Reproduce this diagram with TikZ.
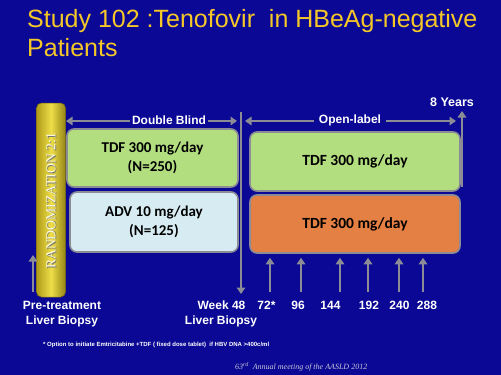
\documentclass[tikz,border=0pt]{standalone}
\usepackage{fontspec}
\setmainfont{Liberation Sans}
\newfontfamily\boxfont{Carlito}
\newfontfamily\seriffont{Liberation Serif}
\usetikzlibrary{arrows.meta,positioning,calc}
\definecolor{bg}{RGB}{10,8,148}
\definecolor{titleyellow}{RGB}{245,200,40}
\definecolor{arrowgray}{RGB}{140,140,150}
\definecolor{boxgreen}{RGB}{178,222,128}
\definecolor{boxblue}{RGB}{214,236,242}
\definecolor{boxorange}{RGB}{228,128,68}
\definecolor{bardark}{RGB}{175,155,25}
\definecolor{barlight}{RGB}{238,222,72}
\definecolor{bartext}{RGB}{252,250,225}
\definecolor{srcgray}{RGB}{200,200,215}
\tikzset{
  garrow/.style={draw=arrowgray, line width=2.6pt, -{Triangle[width=8.5pt,length=6.5pt]}},
  garrows/.style={draw=arrowgray, line width=2.6pt, {Triangle[width=8.5pt,length=6.5pt]}-{Triangle[width=8.5pt,length=6.5pt]}},
  armbox/.style={draw=arrowgray, line width=1.6pt, rounded corners=7pt, minimum width=#1, inner sep=0pt},
  boxtext/.style={font=\boxfont\bfseries\fontsize{15}{18.5}\selectfont, text=black, align=center},
  wlabel/.style={font=\bfseries\fontsize{12}{14}\selectfont, text=white},
  phase/.style={font=\bfseries\fontsize{12}{14}\selectfont, text=white, fill=bg, inner sep=2pt},
}
\begin{document}
\begin{tikzpicture}[x=1pt,y=-1pt]
\fill[bg] (0,0) rectangle (501,375);
\useasboundingbox (0,0) rectangle (501,375);
% title
\node[anchor=base west, text=titleyellow, font=\fontsize{25}{29}\selectfont, inner sep=0pt] (t1) at (27,27) {Study 102 :Tenofovir\ \ in HBeAg-negative};
\node[anchor=base west, text=titleyellow, font=\fontsize{25}{29}\selectfont, inner sep=0pt] (t2) at (27,56) {Patients};
% randomization bar
\node[rounded corners=5pt, minimum width=29pt, minimum height=194pt, inner sep=0pt,
  left color=bardark, right color=bardark!85!black, middle color=barlight, draw=bardark!70!black, line width=0.5pt] (rand) at (51,200) {};
\node[rotate=90, text=black!55, font=\seriffont\fontsize{13.7}{15}\selectfont] at (52,201.7) {RANDOMIZATION 2:1};
\node[rotate=90, text=bartext, font=\seriffont\fontsize{13.7}{15}\selectfont] (randt) at (51,201) {RANDOMIZATION 2:1};
% boxes
\node[armbox=171pt, minimum height=58pt, fill=boxgreen] (A) at (152.5,158) {};
\node[boxtext] at (A.center) {TDF 300 mg/day\\[1pt](N=250)};
\node[armbox=168pt, minimum height=60pt, fill=boxblue] (B) at (154,222) {};
\node[boxtext] at (B.center) {ADV 10 mg/day\\[1pt](N=125)};
\node[armbox=210pt, minimum height=59pt, fill=boxgreen] (C) at (355,161.5) {};
\node[boxtext, font=\boxfont\bfseries\fontsize{15.5}{18}\selectfont] at (C.center) {TDF 300 mg/day};
\node[armbox=210pt, minimum height=58pt, fill=boxorange] (D) at (355,224) {};
\node[boxtext, font=\boxfont\bfseries\fontsize{15.5}{18}\selectfont] at (D.center) {TDF 300 mg/day};
% phase arrows
\coordinate (dbL) at (66,121);
\coordinate (dbR) at (237,121);
\draw[garrows] (dbL) -- (dbR);
\node[phase] (db) at (169,120) {Double Blind};
\coordinate (olL) at (245,121);
\coordinate (olR) at (456,121);
\draw[garrows] (olL) -- (olR);
\node[phase, inner xsep=5pt] (ol) at (350,120) {Open-label};
% week 48 vertical line
\coordinate (vtop) at (241,112);
\coordinate (vbot) at (241,294);
\draw[garrow] (vtop) -- (vbot);
% 8 years
\coordinate (yb) at (462,187);
\coordinate (yt) at (462,111);
\draw[garrow] (yb) -- (yt);
\node[wlabel, font=\bfseries\fontsize{12.5}{14}\selectfont] (yrs) at (452,102) {8 Years};
% pre-treatment arrow
\coordinate (pb) at (33,292);
\coordinate (pt) at (33,255);
\draw[garrow] (pb) -- (pt);
% visit arrows
\foreach \n/\x in {a1/270,a2/301,a3/340,a4/368,a5/399,a6/423}{
  \coordinate (\n) at (\x,292);
  \draw[garrow] (\n) -- ($(\n |- D.south)+(0,4)$);
}
% labels
\node[wlabel, anchor=base] (pre1) at (62,309) {Pre-treatment};
\node[wlabel, anchor=base] (pre2) at (62,324) {Liver Biopsy};
\node[wlabel, anchor=base] (w48) at (221.5,309) {Week 48};
\node[wlabel, anchor=base] (lb) at (221,324) {Liver Biopsy};
\node[wlabel, anchor=base] (l72) at (266.5,309) {72*};
\node[wlabel, anchor=base] (l96) at (298,309) {96};
\node[wlabel, anchor=base] (l144) at (330.5,309) {144};
\node[wlabel, anchor=base] (l192) at (369,309) {192};
\node[wlabel, anchor=base] (l240) at (399.5,309) {240};
\node[wlabel, anchor=base] (l288) at (427,309) {288};
% footnote
\node[anchor=base west, text=white, font=\bfseries\fontsize{6}{7}\selectfont, inner sep=0pt] (fn) at (43,346) {* Option to initiate Emtricitabine +TDF ( fixed dose tablet)\ \ if HBV DNA >400c/ml};
\node[anchor=base west, text=srcgray, font=\seriffont\itshape\fontsize{8}{9}\selectfont, inner sep=0pt] (src) at (235,369) {63\textsuperscript{rd}\ \ Annual meeting of the AASLD 2012};
\end{tikzpicture}
\end{document}
